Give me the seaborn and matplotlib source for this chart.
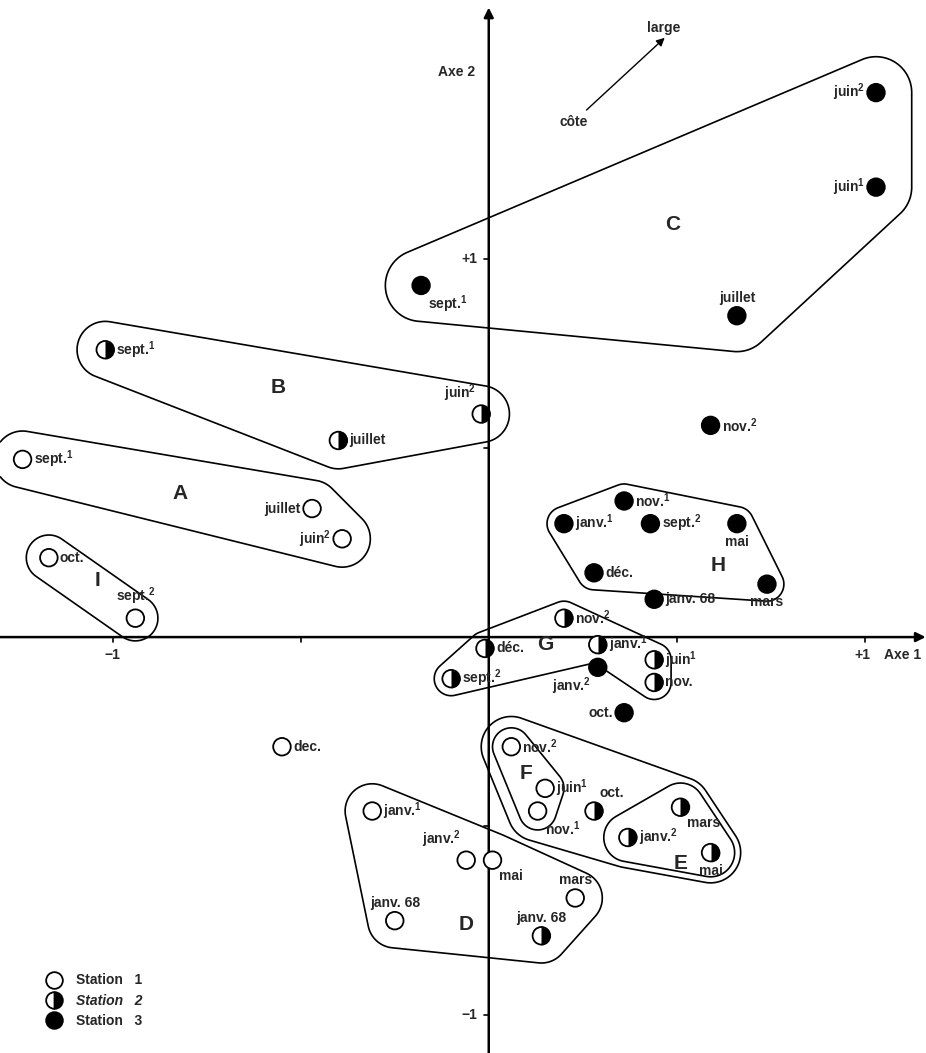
import numpy as np
import pandas as pd
import seaborn as sns
import matplotlib.pyplot as plt
from matplotlib.path import Path
from matplotlib.lines import Line2D

# Data (Axe 1 / Axe 2 coordinates)
s1_lab = ['sept.$^{1}$', 'juillet', 'juin$^{2}$', 'oct.', 'sept.$^{2}$', 'dec.', 'nov.$^{2}$',
          'juin$^{1}$', 'nov.$^{1}$', 'janv.$^{1}$', 'janv.$^{2}$', 'mai', 'mars', 'janv. 68']
s1_x = [-1.24, -0.47, -0.39, -1.17, -0.94, -0.55, 0.06, 0.15, 0.13, -0.31, -0.06, 0.01, 0.23, -0.25]
s1_y = [0.47, 0.34, 0.26, 0.21, 0.05, -0.29, -0.29, -0.40, -0.46, -0.46, -0.59, -0.59, -0.69, -0.75]

s2_lab = ['sept.$^{1}$', 'juin$^{2}$', 'juillet', 'nov.$^{2}$', 'déc.', 'janv.$^{1}$', 'juin$^{1}$',
          'nov.', 'sept.$^{2}$', 'oct.', 'mars', 'janv.$^{2}$', 'mai', 'janv. 68']
s2_x = [-1.02, -0.02, -0.40, 0.20, -0.01, 0.29, 0.44, 0.44, -0.10, 0.28, 0.51, 0.37, 0.59, 0.14]
s2_y = [0.76, 0.59, 0.52, 0.05, -0.03, -0.02, -0.06, -0.12, -0.11, -0.46, -0.45, -0.53, -0.57, -0.79]

s3_lab = ['juin$^{2}$', 'juin$^{1}$', 'sept.$^{1}$', 'juillet', 'nov.$^{2}$', 'nov.$^{1}$',
          'janv.$^{1}$', 'sept.$^{2}$', 'mai', 'déc.', 'mars', 'janv. 68', 'janv.$^{2}$', 'oct.']
s3_x = [1.03, 1.03, -0.18, 0.66, 0.59, 0.36, 0.20, 0.43, 0.66, 0.28, 0.74, 0.44, 0.29, 0.36]
s3_y = [1.44, 1.19, 0.93, 0.85, 0.56, 0.36, 0.30, 0.30, 0.30, 0.17, 0.14, 0.10, -0.08, -0.20]

# groups: ordered members (station, index) forming the outline skeleton
groups = {
    'A': [(1, 0), (1, 1), (1, 2)],
    'B': [(2, 0), (2, 1), (2, 2)],
    'C': [(3, 2), (3, 0), (3, 1), (3, 3)],
    'D': [(1, 9), (1, 11), (1, 12), (2, 13), (1, 13)],
    'E': [(2, 10), (2, 12), (2, 11)],
    'F': [(1, 6), (1, 7), (1, 8)],
    'EF': [(1, 6), (2, 10), (2, 12), (2, 11), (1, 8)],
    'G': [(2, 8), (2, 4), (2, 3), (2, 6), (2, 7), (2, 5)],
    'H': [(3, 6), (3, 5), (3, 8), (3, 10), (3, 9)],
    'I': [(1, 3), (1, 4)],
}
pads = {'A': 0.075, 'B': 0.075, 'C': 0.095, 'D': 0.072, 'E': 0.064, 'F': 0.05,
        'EF': 0.08, 'G': 0.045, 'H': 0.045, 'I': 0.06}
letter_pos = {'A': (-0.82, 0.38), 'B': (-0.56, 0.66), 'C': (0.49, 1.09), 'D': (-0.06, -0.76),
              'E': (0.51, -0.60), 'F': (0.10, -0.36), 'G': (0.15, -0.02), 'H': (0.61, 0.19),
              'I': (-1.04, 0.15)}

# label placement codes (style only)
s1_pl = ['r', 'l', 'l', 'r', 'a', 'r', 'r', 'r', 'br', 'r', 'al', 'br', 'a', 'a']
s2_pl = ['r', 'al', 'r', 'r', 'r', 'r', 'r', 'r', 'r', 'ar', 'br', 'r', 'b', 'a']
s3_pl = ['l', 'l', 'br', 'a', 'r', 'r', 'r', 'r', 'b', 'r', 'b', 'r', 'bl', 'l']

df = pd.concat([
    pd.DataFrame({'label': s1_lab, 'x': s1_x, 'y': s1_y, 'station': 1, 'pl': s1_pl}),
    pd.DataFrame({'label': s2_lab, 'x': s2_x, 'y': s2_y, 'station': 2, 'pl': s2_pl}),
    pd.DataFrame({'label': s3_lab, 'x': s3_x, 'y': s3_y, 'station': 3, 'pl': s3_pl}),
], ignore_index=True)
df['idx'] = df.groupby('station').cumcount()

sns.set_style('white')
plt.rcParams['font.family'] = ['Liberation Sans', 'DejaVu Sans']
plt.rcParams['mathtext.fontset'] = 'custom'
plt.rcParams['mathtext.rm'] = 'Liberation Sans:bold'
plt.rcParams['mathtext.default'] = 'rm'

fig = plt.figure(figsize=(9.26, 10.53), dpi=100)
ax = fig.add_axes([0, 0, 1, 1])
ax.set_xlim(-1.30, 1.163)
ax.set_ylim(-1.10, 1.685)

# axes with arrows
ax.annotate('', xy=(1.162, 0), xytext=(-1.30, 0),
            arrowprops=dict(arrowstyle='-|>', lw=1.8, color='k', mutation_scale=14, shrinkA=0, shrinkB=0))
ax.annotate('', xy=(0, 1.665), xytext=(0, -1.10),
            arrowprops=dict(arrowstyle='-|>', lw=1.8, color='k', mutation_scale=14, shrinkA=0, shrinkB=0))
for t in [-1, -0.5, 0.5, 1]:
    ax.plot([t, t], [0, -0.012], color='k', lw=1.2)
    ax.plot([0, -0.012], [t, t], color='k', lw=1.2)
tk = dict(fontsize=10, fontweight='bold')
ax.text(-1, -0.028, '−1', ha='center', va='top', **tk)
ax.text(0.995, -0.028, '+1', ha='center', va='top', **tk)
ax.text(1.05, -0.028, 'Axe 1', ha='left', va='top', **tk)
ax.text(-0.03, 1.0, '+1', ha='right', va='center', **tk)
ax.text(-0.03, -1.0, '−1', ha='right', va='center', **tk)
ax.text(-0.085, 1.495, 'Axe 2', ha='center', va='center', **tk)

# côte -> large arrow
ax.annotate('', xy=(0.468, 1.585), xytext=(0.26, 1.394),
            arrowprops=dict(arrowstyle='-|>', lw=1.0, color='k', mutation_scale=12, shrinkA=0, shrinkB=0))
ax.text(0.465, 1.612, 'large', ha='center', va='center', **tk)
ax.text(0.226, 1.362, 'côte', ha='center', va='center', **tk)

# group outlines: distance field contour around each skeleton polygon
gx = np.linspace(-1.30, 1.163, 700)
gy = np.linspace(-1.10, 1.685, 800)
GX, GY = np.meshgrid(gx, gy)
pts = np.column_stack([GX.ravel(), GY.ravel()])


def seg_dist(p, a, b):
    ab = b - a
    t = np.clip(((p - a) @ ab) / (ab @ ab), 0, 1)
    proj = a + t[:, None] * ab
    return np.hypot(*(p - proj).T)


for g, members in groups.items():
    verts = np.array([df[(df.station == s) & (df.idx == i)][['x', 'y']].values[0] for s, i in members])
    closed = np.vstack([verts, verts[:1]])
    d = np.min([seg_dist(pts, closed[i], closed[i + 1]) for i in range(len(closed) - 1)], axis=0)
    if len(verts) > 2:
        d[Path(closed).contains_points(pts)] = 0
    ax.contour(GX, GY, d.reshape(GX.shape), levels=[pads[g]], colors='k', linewidths=1.2)

for g, (lx, ly) in letter_pos.items():
    ax.text(lx, ly, g, ha='center', va='center', fontsize=15, fontweight='bold')

# markers
pal = {1: 'white', 2: 'white', 3: 'black'}
sns.scatterplot(data=df, x='x', y='y', hue='station', palette=pal, s=160,
                edgecolor='black', linewidth=1.3, legend=False, ax=ax, zorder=5)
sns.scatterplot(data=df[df.station == 2], x='x', y='y', marker=Path.unit_circle_righthalf(),
                s=160, color='black', linewidth=0, legend=False, ax=ax, zorder=6)
ax.axis('off')

offs = {'r': ((8, 0), 'left', 'center'), 'l': ((-8, 0), 'right', 'center'),
        'a': ((0, 8), 'center', 'bottom'), 'b': ((0, -8), 'center', 'top'),
        'br': ((5, -6), 'left', 'top'), 'al': ((-4, 7), 'right', 'bottom'),
        'bl': ((-5, -6), 'right', 'top'), 'ar': ((4, 8), 'left', 'bottom')}
for _, r in df.iterrows():
    (dx, dy), ha, va = offs[r.pl]
    ax.annotate(r.label, (r.x, r.y), xytext=(dx, dy), textcoords='offset points',
                ha=ha, va=va, fontsize=10, fontweight='bold')

# legend
handles = [
    Line2D([], [], ls='', marker='o', ms=12, mfc='white', mec='black', mew=1.3),
    Line2D([], [], ls='', marker='o', ms=12, mfc='black', mfcalt='white', fillstyle='right',
           mec='black', mew=1.3),
    Line2D([], [], ls='', marker='o', ms=12, mfc='black', mec='black', mew=1.3),
]
leg = ax.legend(handles, ['Station   1', 'Station   2', 'Station   3'], loc='lower left',
                bbox_to_anchor=(0.03, 0.012), frameon=False, handletextpad=0.6,
                labelspacing=0.45, prop={'size': 10, 'weight': 'bold'})
leg.get_texts()[1].set_style('italic')

fig.savefig('out.png', dpi=100)
